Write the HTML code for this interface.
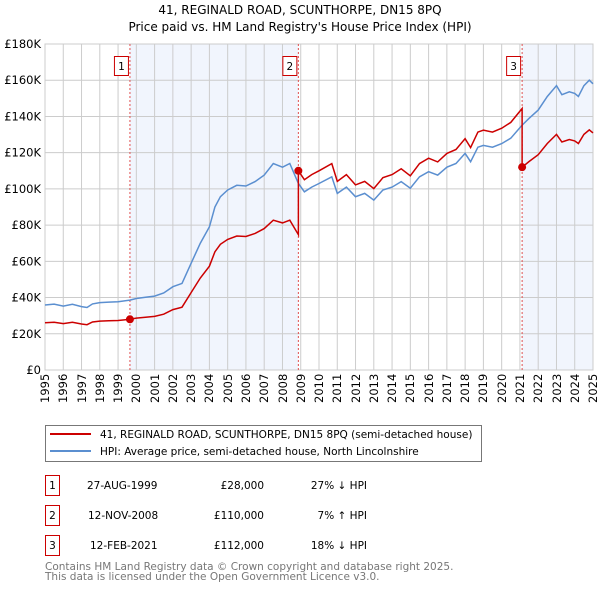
<!DOCTYPE html>
<html><head><meta charset="utf-8"><style>
body{margin:0;background:#fff;font-family:"DejaVu Sans","Liberation Sans",sans-serif;}
#wrap{position:relative;width:600px;height:590px;overflow:hidden;}
.xl{position:absolute;top:374px;width:14px;height:32px;writing-mode:vertical-rl;transform:rotate(180deg);text-align:end;font-size:11.5px;line-height:14px;white-space:nowrap;color:#000;}
</style></head><body>
<div id="wrap">
<svg id="svg" width="600" height="590" xmlns="http://www.w3.org/2000/svg" font-family="DejaVu Sans, Liberation Sans, sans-serif" style="position:absolute;left:0;top:0">
<text x="300" y="14" text-anchor="middle" font-size="12">41, REGINALD ROAD, SCUNTHORPE, DN15 8PQ</text>
<text x="300" y="31" text-anchor="middle" font-size="12">Price paid vs. HM Land Registry's House Price Index (HPI)</text>
<g id="plot"></g>
<g>
<rect x="45.5" y="425.5" width="436" height="36" fill="#fff" stroke="#777"/>
<line x1="50" y1="434" x2="91" y2="434" stroke="#cc0000" stroke-width="2"/>
<text x="100" y="438" font-size="10.5">41, REGINALD ROAD, SCUNTHORPE, DN15 8PQ (semi-detached house)</text>
<line x1="50" y1="451" x2="91" y2="451" stroke="#5b8fd0" stroke-width="2"/>
<text x="100" y="455" font-size="10.5">HPI: Average price, semi-detached house, North Lincolnshire</text>
</g>
<g font-size="10.5">
<rect x="45.5" y="475.5" width="14" height="20" fill="#fff" stroke="#cc0000"/><text x="52.5" y="489" text-anchor="middle">1</text>
<text x="87" y="489">27-AUG-1999</text><text x="264" y="489" text-anchor="end">£28,000</text><text x="367" y="489" text-anchor="end">27% ↓ HPI</text>
<rect x="45.5" y="505.5" width="14" height="20" fill="#fff" stroke="#cc0000"/><text x="52.5" y="519" text-anchor="middle">2</text>
<text x="88" y="519">12-NOV-2008</text><text x="264" y="519" text-anchor="end">£110,000</text><text x="367" y="519" text-anchor="end">7% ↑ HPI</text>
<rect x="45.5" y="535.5" width="14" height="20" fill="#fff" stroke="#cc0000"/><text x="52.5" y="549" text-anchor="middle">3</text>
<text x="90" y="549">12-FEB-2021</text><text x="264" y="549" text-anchor="end">£112,000</text><text x="367" y="549" text-anchor="end">18% ↓ HPI</text>
</g>
<text x="45" y="570" font-size="10.5" fill="#777">Contains HM Land Registry data © Crown copyright and database right 2025.</text>
<text x="45" y="580" font-size="10.5" fill="#777">This data is licensed under the Open Government Licence v3.0.</text>
</svg>
<div id="xlabels"></div>
</div>
<script>
const hpiYears=[1995,1995.5,1996,1996.5,1997,1997.3,1997.6,1998,1998.5,1999,1999.65,2000,2000.5,2001,2001.5,2002,2002.5,2003,2003.5,2004,2004.3,2004.6,2005,2005.5,2006,2006.5,2007,2007.5,2008,2008.4,2008.87,2009.2,2009.6,2010,2010.7,2011,2011.5,2012,2012.5,2013,2013.5,2014,2014.5,2015,2015.5,2016,2016.5,2017,2017.5,2018,2018.3,2018.7,2019,2019.5,2020,2020.5,2021.1,2021.5,2022,2022.5,2023,2023.3,2023.7,2024,2024.2,2024.5,2024.8,2025];
const hpiValues=[35.9,36.4,35.3,36.3,35.0,34.5,36.5,37.2,37.5,37.7,38.6,39.5,40.2,40.8,42.5,46,47.8,58.9,70,79,90,95.7,99.4,102,101.6,104,107.6,114,112,114,103,98.4,101,103,106.7,97.5,101,95.7,97.5,93.8,99.4,101,104,100.4,106.7,109.5,107.6,112,114,119.6,115,123,124,123,125,128,135,139,143.5,151,157,152,153.6,152.7,151,157,160,158];
const saleYears=[1999.65,2008.87,2021.12];
const salePrices=[28,110,112];
const saleLabels=["1","2","3"];
const yTicks=[0,20,40,60,80,100,120,140,160,180];
const xTickYears=[1995,1996,1997,1998,1999,2000,2001,2002,2003,2004,2005,2006,2007,2008,2009,2010,2011,2012,2013,2014,2015,2016,2017,2018,2019,2020,2021,2022,2023,2024,2025];

const L=45,R=593,T=44,B=370;
const xs=y=>L+(y-1995)/(2025-1995)*(R-L);
const ys=v=>B-v/180*(B-T);
const NS="http://www.w3.org/2000/svg";
const g=document.getElementById('plot');
function mk(t,a,p){const e=document.createElementNS(NS,t);for(const k in a)e.setAttribute(k,a[k]);(p||g).appendChild(e);return e;}
function hpiAt(y){for(let i=0;i<hpiYears.length-1;i++){if(y<=hpiYears[i+1]){const f=(y-hpiYears[i])/(hpiYears[i+1]-hpiYears[i]);return hpiValues[i]+f*(hpiValues[i+1]-hpiValues[i]);}}return hpiValues[hpiValues.length-1];}

for(let i=0;i<saleYears.length;i++){
  if(i%2===0){
    const x0=xs(saleYears[i]),x1=i+1<saleYears.length?xs(saleYears[i+1]):R;
    const r=mk('rect',{x:x0,y:T,width:x1-x0,height:B-T,fill:'#eef3fc',opacity:0.8});
    
    
  }
}
yTicks.forEach(v=>{
  const l=mk('line',{x1:L,x2:R,y1:ys(v),y2:ys(v),stroke:'#ccc','stroke-width':1});
  
  
  const t=mk('text',{x:L-4,y:ys(v)+4,'text-anchor':'end','font-size':'11.5'});
  t.textContent='£'+(v===0?'0':v+'K');
  
  
});
const xl=document.getElementById('xlabels');
xTickYears.forEach(y=>{
  const l=mk('line',{x1:xs(y),x2:xs(y),y1:T,y2:B,stroke:'#ccc','stroke-width':1});
  
  
  const d=document.createElement('div');
  d.className='xl';
  d.style.left=(xs(y)-7).toFixed(1)+'px';
  d.textContent=y;
  
  
  xl.appendChild(d);
});
mk('rect',{x:L,y:T,width:R-L,height:B-T,fill:'none',stroke:'#ccc'});
saleYears.forEach((y,i)=>{
  const l=mk('line',{x1:xs(y),x2:xs(y),y1:T,y2:B,stroke:'#e05050','stroke-dasharray':'2,2','stroke-width':1});
  
  
  const r=mk('rect',{x:xs(y)-15.5,y:56.5,width:14,height:19,fill:'#fff',stroke:'#cc0000'});
  
  
  const t=mk('text',{x:xs(y)-8.5,y:70,'text-anchor':'middle','font-size':'10.5'});
  t.textContent=saleLabels[i];
  
  
});
let d='';hpiYears.forEach((y,i)=>{d+=(i?'L':'M')+xs(y).toFixed(1)+','+ys(hpiValues[i]).toFixed(1);});
const hp=mk('path',{d:d,fill:'none',stroke:'#5b8fd0','stroke-width':1.5});


let rd='';let seg=0;let ratio=salePrices[0]/hpiAt(saleYears[0]);
const pts=[];
hpiYears.forEach((y,i)=>{
  while(seg+1<saleYears.length&&y>=saleYears[seg+1]){
    seg++;
    pts.push([saleYears[seg],hpiAt(saleYears[seg])*ratio]);
    ratio=salePrices[seg]/hpiAt(saleYears[seg]);
    pts.push([saleYears[seg],salePrices[seg]]);
  }
  pts.push([y,hpiValues[i]*ratio]);
});
pts.forEach((p,i)=>{rd+=(i?'L':'M')+xs(p[0]).toFixed(1)+','+ys(p[1]).toFixed(1);});
const rp=mk('path',{d:rd,fill:'none',stroke:'#cc0000','stroke-width':1.5});


saleYears.forEach((y,i)=>{
  const c=mk('circle',{cx:xs(y),cy:ys(salePrices[i]),r:4,fill:'#cc0000'});
  
  
});
</script>
</body></html>
